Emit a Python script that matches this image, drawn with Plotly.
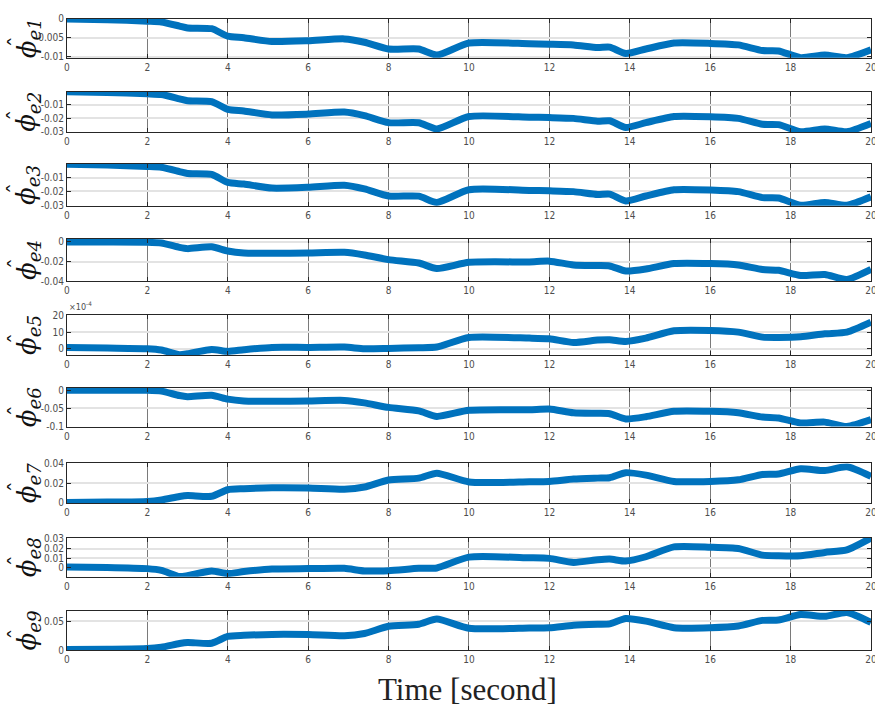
import plotly.graph_objects as go

# time base (seconds)
t = [0, 1, 2, 2.35, 2.8, 3.0, 3.6, 4.0, 4.4, 5.1, 6.0, 6.9, 7.4, 8.0, 8.75, 9.2,
     10.0, 11.5, 12.0, 12.6, 13.2, 13.5, 13.9, 14.4, 15.1, 16.0, 16.7, 17.3, 17.7,
     18.25, 18.85, 19.4, 20]

phi_e1 = [0, -0.0002, -0.0006, -0.0008, -0.0019, -0.0024, -0.0026, -0.0046, -0.0050,
          -0.0060, -0.0058, -0.0053, -0.0062, -0.0080, -0.0080, -0.0096, -0.0064,
          -0.0066, -0.0067, -0.0069, -0.0076, -0.0075, -0.0092, -0.0080, -0.0064,
          -0.0065, -0.0069, -0.0084, -0.0085, -0.0103, -0.0096, -0.0103, -0.0082]

phi_e2 = [-0.0003, -0.0008, -0.0018, -0.0024, -0.0056, -0.0070, -0.0076, -0.0135, -0.0147,
          -0.0176, -0.0170, -0.0155, -0.0182, -0.0234, -0.0235, -0.0281, -0.0188,
          -0.0193, -0.0196, -0.0202, -0.0223, -0.0220, -0.0270, -0.0234, -0.0188,
          -0.0190, -0.0202, -0.0246, -0.0249, -0.0302, -0.0281, -0.0302, -0.0240]

phi_e3 = [-0.0003, -0.0008, -0.0018, -0.0024, -0.0056, -0.0070, -0.0076, -0.0135, -0.0147,
          -0.0176, -0.0170, -0.0155, -0.0182, -0.0234, -0.0235, -0.0281, -0.0188,
          -0.0193, -0.0196, -0.0202, -0.0223, -0.0220, -0.0270, -0.0234, -0.0188,
          -0.0190, -0.0202, -0.0246, -0.0249, -0.0302, -0.0281, -0.0302, -0.0240]

phi_e4 = [0, 0, -0.0002, -0.0010, -0.0055, -0.0068, -0.0050, -0.0092, -0.0112,
          -0.0115, -0.0112, -0.0105, -0.0132, -0.0180, -0.0214, -0.0270, -0.0207,
          -0.0203, -0.0195, -0.0234, -0.0240, -0.0244, -0.0295, -0.0275, -0.0220,
          -0.0220, -0.0234, -0.0280, -0.0288, -0.0340, -0.0330, -0.0380, -0.0278]

# phi_e5 in units of 1e-4
phi_e5 = [0.8, 0.4, 0.0, -0.8, -3.6, -3.0, -0.4, -1.6, -0.6,
          0.8, 0.8, 1.0, 0.0, 0.2, 0.6, 1.0, 6.8,
          6.4, 6.0, 3.8, 5.2, 5.4, 4.4, 6.4, 10.8,
          11.0, 10.0, 7.0, 6.8, 7.2, 9.0, 10.0, 16.0]

phi_e6 = [0, 0, -0.0005, -0.0027, -0.0150, -0.0180, -0.0140, -0.0250, -0.0300,
          -0.0310, -0.0300, -0.0285, -0.0355, -0.0480, -0.0575, -0.0730, -0.0560,
          -0.0545, -0.0525, -0.0630, -0.0645, -0.0655, -0.0800, -0.0740, -0.0590,
          -0.0590, -0.0630, -0.0750, -0.0775, -0.0915, -0.0890, -0.1010, -0.0820]

phi_e7 = [0.0005, 0.0008, 0.0015, 0.0030, 0.0065, 0.0075, 0.0068, 0.0135, 0.0145,
          0.0155, 0.0153, 0.0140, 0.0163, 0.0235, 0.0254, 0.0305, 0.0215,
          0.0217, 0.0220, 0.0244, 0.0254, 0.0258, 0.0310, 0.0285, 0.0220,
          0.0220, 0.0237, 0.0292, 0.0296, 0.0350, 0.0332, 0.0370, 0.0272]

phi_e8 = [0.0007, 0.0003, -0.0010, -0.0028, -0.0093, -0.0083, -0.0034, -0.0062, -0.0041,
          -0.0014, -0.0010, -0.0007, -0.0034, -0.0031, -0.0007, -0.0003, 0.0110,
          0.0103, 0.0097, 0.0055, 0.0083, 0.0090, 0.0069, 0.0114, 0.0217,
          0.0214, 0.0200, 0.0131, 0.0124, 0.0124, 0.0159, 0.0186, 0.0310]

phi_e9 = [0.0008, 0.0013, 0.0025, 0.0050, 0.0112, 0.0130, 0.0118, 0.0235, 0.0253,
          0.0270, 0.0267, 0.0245, 0.0285, 0.0410, 0.0445, 0.0535, 0.0376,
          0.0380, 0.0385, 0.0427, 0.0445, 0.0451, 0.0543, 0.0498, 0.0385,
          0.0385, 0.0415, 0.0511, 0.0518, 0.0612, 0.0581, 0.0648, 0.0476]

series = [phi_e1, phi_e2, phi_e3, phi_e4, phi_e5, phi_e6, phi_e7, phi_e8, phi_e9]
labels = ["1", "2", "3", "4", "5", "6", "7", "8", "9"]

y_ranges = [[-0.0103, 0.0], [-0.0306, -0.0001], [-0.0306, -0.0001], [-0.0401, 0.0033],
            [-3.8, 20.2], [-0.1015, 0.0065], [-0.0003, 0.0405], [-0.0095, 0.031],
            [-0.0005, 0.068]]
y_ticks = [[-0.01, -0.005, 0], [-0.03, -0.02, -0.01], [-0.03, -0.02, -0.01],
           [-0.04, -0.02, 0], [0, 10, 20], [-0.1, -0.05, 0], [0, 0.02, 0.04],
           [0, 0.01, 0.02, 0.03], [0, 0.05]]
y_ticktext = [["-0.01", "-0.005", "0"], ["-0.03", "-0.02", "-0.01"], ["-0.03", "-0.02", "-0.01"],
              ["-0.04", "-0.02", "0"], ["0", "10", "20"], ["-0.1", "-0.05", "0"],
              ["0", "0.02", "0.04"], ["0", "0.01", "0.02", "0.03"], ["0", "0.05"]]
x_ticks = [0, 2, 4, 6, 8, 10, 12, 14, 16, 18, 20]

# page is rendered at ~0.991 scale, so the layout is slightly larger than the window
W, H = 883, 717
RW, RH = 875, 711
tops = [14, 87, 160, 235, 312, 385, 461, 536, 609]
bots = [53, 128, 202, 278, 352, 424, 501, 575, 649]
x_dom = [64 / RW, 869 / RW]

tick_font = dict(family="Liberation Sans Narrow, DejaVu Sans Condensed, Arial Narrow, sans-serif",
                 size=10, color="#4d4d4d")

fig = go.Figure()
layout = dict(width=W, height=H, margin=dict(l=0, r=0, t=0, b=0),
              paper_bgcolor="white", plot_bgcolor="white", showlegend=False)
annotations = []
for i, (ys, lab) in enumerate(zip(series, labels)):
    k = "" if i == 0 else str(i + 1)
    fig.add_trace(go.Scatter(x=t, y=ys, mode="lines", xaxis="x" + k, yaxis="y" + k,
                             line=dict(color="#0072BD", width=7, shape="spline", smoothing=0.6),
                             hoverinfo="skip"))
    ydom = [(RH - bots[i]) / RH, (RH - tops[i]) / RH]
    layout["xaxis" + k] = dict(domain=x_dom, anchor="y" + k, range=[0, 20], tickvals=x_ticks,
                               ticktext=[str(v) for v in x_ticks],
                               showgrid=True, gridcolor="#7a7a7a", gridwidth=1,
                               showline=True, mirror="ticks", linecolor="#262626", linewidth=1,
                               ticks="inside", ticklen=4, tickcolor="#262626",
                               tickfont=tick_font, zeroline=False, fixedrange=True)
    layout["yaxis" + k] = dict(domain=ydom, anchor="x" + k, range=y_ranges[i],
                               tickvals=y_ticks[i], ticktext=y_ticktext[i],
                               showgrid=True, gridcolor="#e3e3e3", gridwidth=1.5,
                               showline=True, mirror="ticks", linecolor="#262626", linewidth=1,
                               ticks="inside", ticklen=4, tickcolor="#262626",
                               tickfont=tick_font, zeroline=False, fixedrange=True)
    yc = (tops[i] + bots[i]) / 2
    annotations.append(dict(
        text="<i>ϕ</i><sub><i>e" + lab + "</i></sub>",
        xref="paper", yref="paper", x=25 / RW, y=(RH - yc) / RH,
        xanchor="center", yanchor="middle", textangle=-90, showarrow=False,
        font=dict(family="DejaVu Serif, Liberation Serif, serif", size=26, color="#111111")))
    annotations.append(dict(
        text="ˆ",
        xref="paper", yref="paper", x=14 / RW, y=(RH - yc - 3) / RH,
        xanchor="center", yanchor="middle", textangle=-90, showarrow=False,
        font=dict(family="DejaVu Serif, Liberation Serif, serif", size=22, color="#111111")))

annotations.append(dict(text="×10<sup>-4</sup>", xref="paper", yref="paper",
                        x=64 / RW, y=(RH - 311) / RH, xanchor="left", yanchor="bottom",
                        showarrow=False, font=dict(family=tick_font["family"], size=9, color="#4d4d4d")))
annotations.append(dict(text="Time [second]", xref="paper", yref="paper",
                        x=465 / RW, y=(RH - 688) / RH, xanchor="center", yanchor="middle",
                        showarrow=False,
                        font=dict(family="Liberation Serif, DejaVu Serif, serif", size=31, color="#222222")))
layout["annotations"] = annotations
fig.update_layout(**layout)
fig.write_html("out.html")
